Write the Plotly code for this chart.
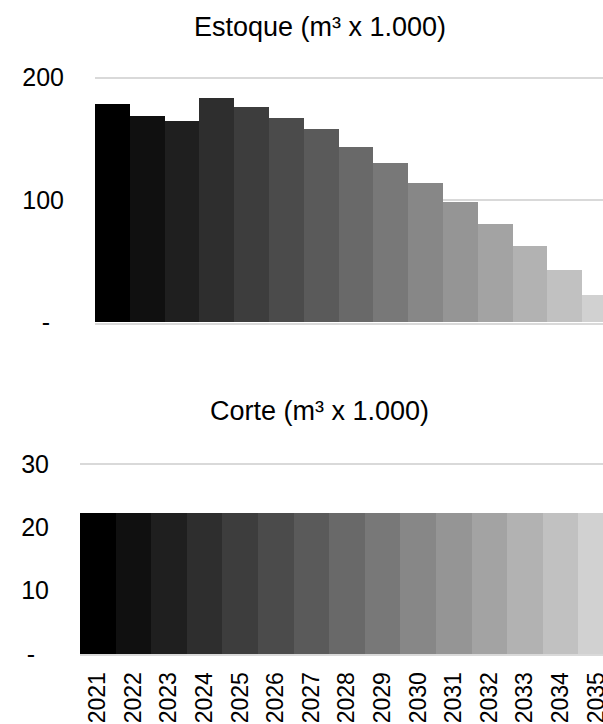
import plotly.graph_objects as go

years = [str(y) for y in range(2021, 2036)]
estoque = [178.5, 168.7, 164.6, 183.2, 176.1, 167.1, 158.1, 143.4, 130.3, 114.0, 98.4, 80.4, 62.5, 42.9, 22.5]
corte = [22.3] * 15
title_estoque = "Estoque (m³ x 1.000)"
title_corte = "Corte (m³ x 1.000)"

grays = ["#000000", "#101010", "#1f1f1f", "#2e2e2e", "#3d3d3d", "#4b4b4b", "#5a5a5a",
         "#696969", "#787878", "#878787", "#959595", "#a3a3a3", "#b2b2b2", "#c1c1c1", "#d1d1d1"]

W, H = 603, 724
FONT = "Liberation Sans, Arial, sans-serif"
FS = 25
GRID = "#d9d9d9"
NB = "\u00a0"

fig = go.Figure()
fig.add_trace(go.Bar(x=years, y=estoque, marker=dict(color=grays, line=dict(width=0)),
                     xaxis="x", yaxis="y", showlegend=False))
fig.add_trace(go.Bar(x=years, y=corte, marker=dict(color=grays, line=dict(width=0)),
                     xaxis="x2", yaxis="y2", showlegend=False))

def py(px):
    return 1 - px / H

# top panel: 0 at 322.5 px, 200 at 77.7 px ; range extended slightly so 200 gridline is drawn
top_scale = (322.5 - 77.7) / 200
bot_scale = (654 - 464) / 30

fig.update_layout(
    width=W, height=H,
    margin=dict(l=0, r=0, t=0, b=0, autoexpand=False),
    paper_bgcolor="white", plot_bgcolor="white",
    bargap=0,
    font=dict(family=FONT, size=FS, color="black"),
    xaxis=dict(domain=[95 / W, 1], anchor="y", type="category", range=[-0.5, 14.1],
               showticklabels=False, showgrid=False, zeroline=False, automargin=False,
               showline=True, linecolor=GRID, linewidth=2),
    yaxis=dict(domain=[py(322.5), py(77.7 - 3 * top_scale)], anchor="x", range=[0, 203],
               tickvals=[0, 100, 200], ticktext=["-" + NB * 2, "100", "200"],
               showgrid=True, gridcolor=GRID, gridwidth=2, zeroline=False, automargin=False,
               ticklabelstandoff=30, tickfont=dict(size=FS)),
    xaxis2=dict(domain=[80 / W, 1], anchor="y2", type="category", range=[-0.5, 14.19],
                tickangle=-90, showgrid=False, zeroline=False, automargin=False,
                showline=True, linecolor=GRID, linewidth=2,
                ticklabelstandoff=7, tickfont=dict(size=23)),
    yaxis2=dict(domain=[py(654), py(464 - 0.45 * bot_scale)], anchor="x2", range=[0, 30.45],
                tickvals=[0, 10, 20, 30], ticktext=["-" + NB * 2, "10", "20", "30"],
                showgrid=True, gridcolor=GRID, gridwidth=2, zeroline=False, automargin=False,
                ticklabelstandoff=30, tickfont=dict(size=FS)),
    annotations=[
        dict(text=title_estoque, xref="paper", yref="paper", x=320 / W, y=py(27.5),
             xanchor="center", yanchor="middle", showarrow=False, font=dict(size=27)),
        dict(text=title_corte, xref="paper", yref="paper", x=319 / W, y=py(411),
             xanchor="center", yanchor="middle", showarrow=False, font=dict(size=27)),
    ],
)

fig.write_html("out.html")
